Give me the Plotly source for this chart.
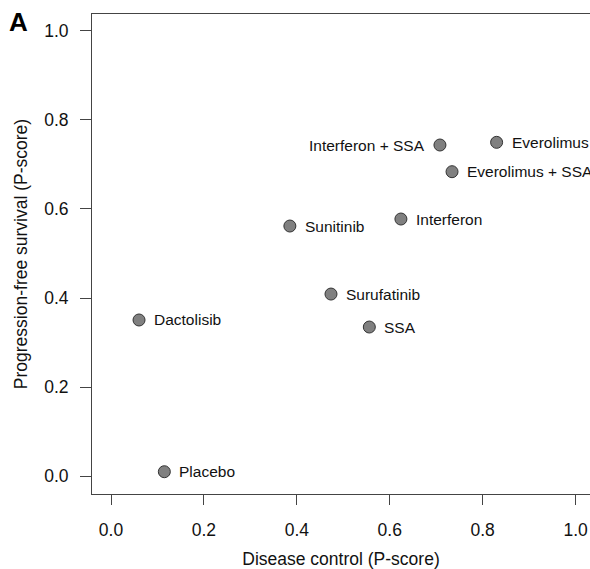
import plotly.graph_objects as go

treatments = ["Everolimus", "Interferon + SSA", "Everolimus + SSA", "Interferon",
              "Sunitinib", "Surufatinib", "SSA", "Dactolisib", "Placebo"]
disease_control = [0.830, 0.708, 0.734, 0.624, 0.385, 0.4735, 0.556, 0.0603, 0.1148]
pfs = [0.7495, 0.7435, 0.6836, 0.5774, 0.5617, 0.409, 0.335, 0.3508, 0.0103]
label_side = ["right", "left", "right", "right", "right", "right", "right", "right", "right"]

x_ticks = [0.0, 0.2, 0.4, 0.6, 0.8, 1.0]
y_ticks = [0.0, 0.2, 0.4, 0.6, 0.8, 1.0]

FONT = "Liberation Sans, Arial, sans-serif"

fig = go.Figure()
fig.add_trace(go.Scatter(
    x=disease_control, y=pfs, mode="markers",
    marker=dict(size=12, color="#808080", line=dict(color="#333333", width=1)),
    hoverinfo="skip", showlegend=False,
))

for t, xv, yv, side in zip(treatments, disease_control, pfs, label_side):
    fig.add_annotation(
        x=xv, y=yv, text=t, showarrow=False,
        xanchor="left" if side == "right" else "right",
        yanchor="middle",
        xshift=13 if side == "right" else -13,
        font=dict(family=FONT, size=15.5, color="#111111"),
    )

fig.add_annotation(
    x=-0.171, y=0.983, xref="paper", yref="paper", text="<b>A</b>",
    showarrow=False, xanchor="left", yanchor="middle",
    font=dict(family=FONT, size=26, color="black"),
)

fig.update_layout(
    width=590, height=569,
    margin=dict(l=92, r=0, t=14, b=75),
    paper_bgcolor="white", plot_bgcolor="white",
    font=dict(family=FONT, color="#111111"),
    xaxis=dict(
        range=[-0.0409, 1.031], tickvals=x_ticks,
        ticktext=[f"{v:.1f}" for v in x_ticks],
        showgrid=False, zeroline=False,
        showline=True, mirror=True, linecolor="#444444", linewidth=1,
        ticks="outside", ticklen=10, tickcolor="#444444", tickwidth=1,
        ticklabelstandoff=10,
        tickfont=dict(family=FONT, size=17.5, color="#111111"),
        title=dict(text="Disease control (P-score)", standoff=13,
                   font=dict(family=FONT, size=17.5, color="#111111")),
    ),
    yaxis=dict(
        range=[-0.0397, 1.0375], tickvals=y_ticks,
        ticktext=[f"{v:.1f}" for v in y_ticks],
        showgrid=False, zeroline=False,
        showline=True, mirror=False, linecolor="#444444", linewidth=1,
        ticks="outside", ticklen=11, tickcolor="#444444", tickwidth=1,
        ticklabelstandoff=8,
        tickfont=dict(family=FONT, size=17.5, color="#111111"),
        title=dict(text="Progression-free survival (P-score)", standoff=12,
                   font=dict(family=FONT, size=17.5, color="#111111")),
    ),
)

fig.write_html("out.html")
